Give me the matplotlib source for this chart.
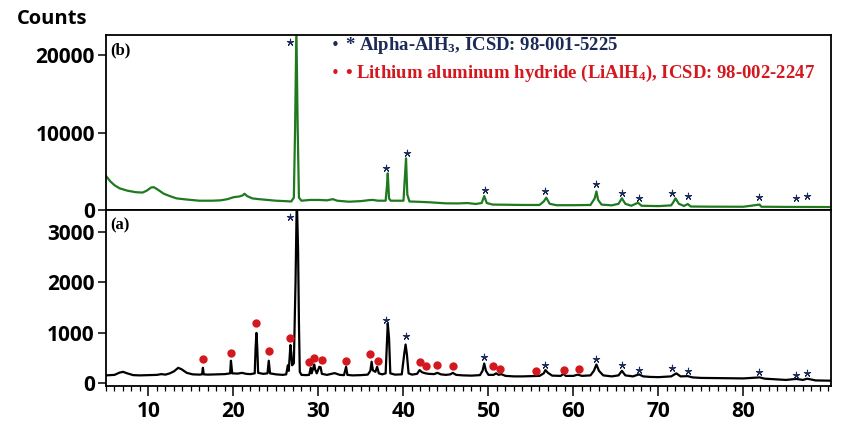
import matplotlib
matplotlib.use("Agg")
import matplotlib.pyplot as plt
from matplotlib.ticker import MultipleLocator
from matplotlib.font_manager import FontProperties

# ---------------- data ----------------
two_theta_a = [5.0, 6.0, 6.6, 7.0, 7.5, 8.2, 9.0, 10.0, 11.0, 11.5, 12.0, 12.5, 13.0, 13.5, 13.9,
               14.5, 15.2, 16.0, 16.3, 16.4, 16.5, 17.0, 18.0, 19.0, 19.6, 19.7, 19.85, 20.5, 21.0,
               21.5, 22.0, 22.5, 22.6, 22.7, 22.8, 22.9, 23.5, 24.0, 24.15, 24.3, 25.0, 25.8, 26.2,
               26.4, 26.5, 26.7, 26.8, 26.9, 27.1, 27.2, 27.3, 27.45, 27.6, 27.7, 27.8, 28.0, 28.5,
               28.9, 29.1, 29.2, 29.5, 29.6, 29.8, 30.1, 30.25, 30.4, 31.0, 31.9, 32.5, 33.0, 33.25,
               33.4, 34.0, 35.0, 35.8, 36.1, 36.25, 36.4, 36.7, 36.9, 37.1, 37.5, 37.9, 38.05, 38.15,
               38.3, 38.45, 39.0, 39.8, 40.1, 40.25, 40.4, 40.6, 41.0, 41.6, 41.9, 42.2, 42.6, 43.0,
               43.6, 44.0, 44.4, 45.0, 45.5, 45.8, 46.2, 47.0, 48.0, 49.0, 49.3, 49.5, 49.7, 50.0,
               50.6, 50.9, 51.2, 51.5, 52.0, 53.0, 54.0, 55.0, 56.0, 56.5, 56.7, 57.0, 57.5, 58.5,
               58.8, 59.1, 60.0, 60.5, 61.0, 62.0, 62.4, 62.7, 63.0, 63.5, 64.5, 65.3, 65.7, 66.1,
               67.0, 67.7, 68.2, 69.0, 70.0, 71.5, 72.1, 72.6, 73.45, 74.0, 75.0, 78.0, 80.0, 81.9,
               82.5, 84.0, 85.0, 86.2, 87.0, 87.5, 88.5, 90.3]
counts_a = [160, 170, 215, 230, 200, 165, 160, 165, 170, 185, 175, 200, 240, 310, 280,
            210, 180, 175, 180, 310, 180, 175, 180, 185, 200, 450, 200, 195, 210,
            190, 185, 200, 700, 1000, 700, 210, 190, 200, 450, 200, 180, 170, 180,
            360, 250, 760, 600, 360, 400, 1190, 2010, 3700, 2620, 1200, 230, 170, 165,
            170, 310, 200, 375, 280, 200, 330, 320, 190, 170, 205, 170, 165, 330,
            170, 160, 165, 175, 250, 430, 260, 230, 330, 200, 180, 200, 780, 1190,
            900, 200, 175, 180, 600, 770, 580, 200, 175, 190, 265, 220, 200, 190,
            185, 210, 180, 170, 180, 210, 170, 160, 155, 165, 250, 395, 250, 170,
            170, 200, 170, 185, 150, 140, 140, 145, 150, 200, 265, 210, 155, 150,
            190, 150, 150, 175, 150, 160, 250, 375, 250, 160, 140, 160, 250, 160,
            140, 180, 140, 130, 125, 140, 200, 140, 145, 120, 110, 105, 100, 120,
            95, 80, 70, 90, 70, 95, 60, 55]

two_theta_b = [5.0, 5.5, 6.0, 6.6, 7.5, 8.5, 9.3, 9.8, 10.3, 10.6, 11.0, 11.8, 12.5, 13.3, 14.5,
               16.0, 17.5, 18.5, 19.3, 20.0, 20.7, 21.1, 21.3, 21.6, 22.2, 23.0, 24.0, 25.0, 26.0,
               26.8, 27.1, 27.25, 27.4, 27.55, 27.7, 28.0, 29.0, 30.0, 31.0, 31.7, 32.2, 33.6, 35.0,
               36.0, 36.4, 37.0, 37.9, 38.05, 38.15, 38.3, 38.5, 40.0, 40.15, 40.3, 40.45, 40.7, 42.0,
               43.0, 45.0, 46.5, 47.5, 48.5, 49.2, 49.5, 49.8, 50.5, 52.0, 54.0, 56.0, 56.5, 56.8,
               57.2, 58.0, 60.0, 62.0, 62.5, 62.7, 62.9, 63.3, 64.5, 65.3, 65.7, 66.1, 66.8, 67.6,
               68.0, 70.0, 71.5, 71.8, 72.0, 72.4, 73.0, 73.45, 73.8, 76.0, 80.0, 81.9, 82.1, 85.0,
               87.0, 90.3]
counts_b = [4400, 3700, 3200, 2800, 2500, 2300, 2250, 2500, 2900, 2950, 2700, 2100, 1800, 1500, 1350,
            1200, 1200, 1250, 1400, 1650, 1750, 1900, 2100, 1800, 1500, 1400, 1300, 1200, 1150,
            1100, 1600, 10700, 23500, 10700, 1600, 1200, 1300, 1300, 1250, 1400, 1200, 1070, 1150,
            1280, 1300, 1200, 1200, 3000, 4730, 1500, 1200, 1200, 4000, 6670, 2000, 1100, 1050,
            1000, 860, 850, 900, 780, 900, 1800, 900, 700, 680, 650, 650, 1100, 1590,
            800, 620, 620, 650, 1500, 2400, 1300, 700, 600, 800, 1510, 800, 550, 940,
            550, 500, 600, 1100, 1510, 800, 520, 770, 450, 430, 420, 700, 420, 400,
            390, 380]

# phase markers
star_a_x = [26.7, 38.0, 40.3, 49.45, 56.7, 62.6, 65.7, 67.7, 71.6, 73.45, 81.8, 86.2, 87.5]
star_a_y = [3290, 1255, 940, 515, 375, 480, 360, 265, 300, 245, 230, 165, 205]
star_b_x = [26.7, 38.0, 40.4, 49.6, 56.7, 62.6, 65.7, 67.7, 71.6, 73.45, 81.8, 86.2, 87.5]
star_b_y = [21700, 5380, 7310, 2580, 2490, 3320, 2150, 1510, 2150, 1845, 1715, 1600, 1850]
dot_a_x = [16.4, 19.7, 22.7, 24.15, 26.7, 28.9, 29.5, 30.4, 33.25, 36.1, 37.0, 42.0, 42.7,
           44.0, 45.8, 50.5, 51.4, 55.6, 58.9, 60.6]
dot_a_y = [475, 600, 1190, 640, 900, 430, 505, 455, 440, 575, 440, 415, 340,
           375, 350, 340, 290, 245, 275, 290]

x_ticks = [10, 20, 30, 40, 50, 60, 70, 80]
y_ticks_a = [0, 1000, 2000, 3000]
y_ticks_b = [0, 10000, 20000]

legend_lines = ["* Alpha-AlH$_3$, ICSD: 98-001-5225",
                "• Lithium aluminum hydride (LiAlH$_4$), ICSD: 98-002-2247"]

# ---------------- styling ----------------
plt.rcParams['mathtext.fontset'] = 'custom'
plt.rcParams['mathtext.rm'] = 'Liberation Serif:bold'
plt.rcParams['mathtext.bf'] = 'Liberation Serif:bold'
plt.rcParams['mathtext.it'] = 'Liberation Serif:bold'
plt.rcParams['mathtext.default'] = 'rm'

GREEN = '#1f7a1f'
NAVY = '#1c2a57'
RED = '#d3191f'
TICKFONT = dict(family='Open Sans', weight='bold', size=15)

W, H = 850, 433
fig = plt.figure(figsize=(W / 100, H / 100), dpi=100)
L, R = 106, 831
top_b, mid, bot_a = 35, 210, 386
ax_b = fig.add_axes([L / W, 1 - mid / H, (R - L) / W, (mid - top_b) / H])
ax_a = fig.add_axes([L / W, 1 - bot_a / H, (R - L) / W, (bot_a - mid) / H])

xlim = (5, 90.3)

# bottom panel (a)
ax_a.plot(two_theta_a, counts_a, color='black', lw=1.6)
ax_a.scatter(dot_a_x, dot_a_y, s=36, color=RED, zorder=3, linewidths=0)
ax_a.scatter(star_a_x, star_a_y, marker=(5, 2, 0), s=22, color=NAVY, linewidths=0.8, zorder=3)
ax_a.set_xlim(*xlim)
ax_a.set_ylim(-50, 3430)
ax_a.set_xticks(x_ticks)
ax_a.xaxis.set_minor_locator(MultipleLocator(1))
ax_a.set_yticks(y_ticks_a)
ax_a.tick_params(axis='x', which='major', length=7, width=1.1, direction='out', pad=4)
ax_a.tick_params(axis='x', which='minor', length=3.5, width=0.9, direction='out')
ax_a.tick_params(axis='y', which='major', length=6, width=1.1, direction='out', pad=2)
ax_a.text(0.006, 0.96, '(a)', transform=ax_a.transAxes, ha='left', va='top',
          family='Liberation Serif', weight='bold', size=12)

# top panel (b)
ax_b.plot(two_theta_b, counts_b, color=GREEN, lw=1.6)
ax_b.scatter(star_b_x, star_b_y, marker=(5, 2, 0), s=22, color=NAVY, linewidths=0.8, zorder=3)
ax_b.set_xlim(*xlim)
ax_b.set_ylim(0, 22600)
ax_b.set_xticks([])
ax_b.set_yticks(y_ticks_b)
ax_b.tick_params(axis='y', which='major', length=6, width=1.1, direction='out', pad=2)
ax_b.text(0.006, 0.96, '(b)', transform=ax_b.transAxes, ha='left', va='top',
          family='Liberation Serif', weight='bold', size=12)

for ax in (ax_a, ax_b):
    for sp in ax.spines.values():
        sp.set_linewidth(1.3)
        sp.set_color('black')
    for lab in ax.get_xticklabels() + ax.get_yticklabels():
        lab.set_fontproperties(FontProperties(**TICKFONT))

# legend block
fig.text(335 / W, 1 - 46 / H, '•', color=NAVY, ha='center', va='center', size=11)
fig.text(345 / W, 1 - 46 / H, legend_lines[0], color=NAVY, ha='left', va='center',
         family='Liberation Serif', weight='bold', size=13.5)
fig.text(335 / W, 1 - 73 / H, '•', color=RED, ha='center', va='center', size=11)
fig.text(345 / W, 1 - 73 / H, legend_lines[1], color=RED, ha='left', va='center',
         family='Liberation Serif', weight='bold', size=13.5)

fig.text(17 / W, 1 - 19 / H, 'Counts', ha='left', va='center',
         family='Open Sans', weight='bold', size=14.5)

fig.savefig('out.png', dpi=100)
